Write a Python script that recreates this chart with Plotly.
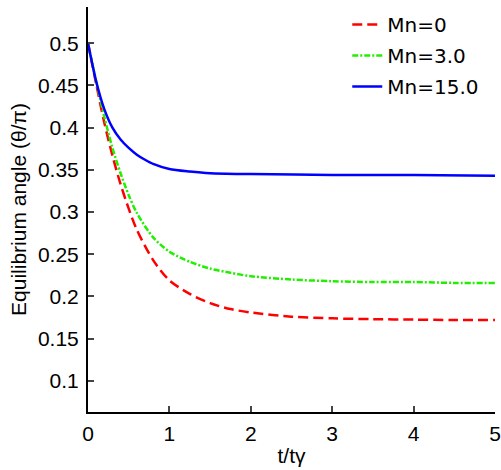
import plotly.graph_objects as go

# Data
t_red = [0, 0.1, 0.2, 0.3, 0.4, 0.5, 0.6, 0.8, 1.0, 1.25, 1.5, 1.75, 2.0, 2.5, 3.0, 3.5, 4.0, 4.5, 5.0]
y_red = [0.5, 0.452, 0.406, 0.367, 0.333, 0.304, 0.279, 0.243, 0.219, 0.203, 0.192, 0.185, 0.181, 0.176, 0.174, 0.173, 0.1725, 0.172, 0.172]

t_green = [0, 0.1, 0.2, 0.3, 0.4, 0.5, 0.6, 0.8, 1.0, 1.25, 1.5, 1.75, 2.0, 2.5, 3.0, 3.5, 4.0, 4.5, 5.0]
y_green = [0.5, 0.455, 0.413, 0.376, 0.346, 0.320, 0.299, 0.270, 0.253, 0.241, 0.233, 0.228, 0.224, 0.220, 0.218, 0.217, 0.217, 0.216, 0.216]

t_blue = [0, 0.1, 0.2, 0.3, 0.4, 0.5, 0.6, 0.7, 0.8, 1.0, 1.25, 1.5, 2.0, 3.0, 4.0, 5.0]
y_blue = [0.5, 0.455, 0.422, 0.400, 0.386, 0.376, 0.368, 0.362, 0.357, 0.351, 0.348, 0.346, 0.345, 0.344, 0.344, 0.343]

names = ["Mn=0", "Mn=3.0", "Mn=15.0"]
x_ticks = [0, 1, 2, 3, 4, 5]
y_ticks = [0.1, 0.15, 0.2, 0.25, 0.3, 0.35, 0.4, 0.45, 0.5]
y_tick_text = ["0.1", "0.15", "0.2", "0.25", "0.3", "0.35", "0.4", "0.45", "0.5"]

fig = go.Figure()
fig.add_trace(go.Scatter(x=t_red, y=y_red, mode="lines", name=names[0], legendgroup="a",
                         line=dict(color="#ff0000", width=2.5, dash="10px,5px", shape="spline", smoothing=0.8)))
fig.add_trace(go.Scatter(x=t_green, y=y_green, mode="lines", name=names[1], legendgroup="b",
                         line=dict(color="#22ee00", width=2.5, dash="6px,2px,2px,2px", shape="spline", smoothing=0.8)))
fig.add_trace(go.Scatter(x=t_blue, y=y_blue, mode="lines", name=names[2], legendgroup="c",
                         line=dict(color="#0000ff", width=2.5, shape="spline", smoothing=0.8)))

font = "Liberation Sans, Arial, sans-serif"
fig.update_layout(
    width=501, height=470,
    margin=dict(l=88, r=6, t=5, b=58),
    plot_bgcolor="white", paper_bgcolor="white",
    font=dict(family=font, color="black", size=21),
    showlegend=True,
    legend=dict(x=0.637, y=1.005, xanchor="left", yanchor="top",
                font=dict(family="DejaVu Sans, sans-serif", size=20),
                bgcolor="rgba(0,0,0,0)", tracegroupgap=2, traceorder="grouped"),
    xaxis=dict(range=[0, 5], tickvals=x_ticks, ticks="inside", ticklen=6, tickwidth=1.5,
               showline=True, linecolor="black", linewidth=2, showgrid=False, zeroline=False,
               tickfont=dict(size=21), ticklabelstandoff=2, automargin=False,
               title=dict(text="t/tγ", font=dict(size=21), standoff=4)),
    yaxis=dict(range=[0.063, 0.543], tickvals=y_ticks, ticktext=y_tick_text, ticks="inside",
               ticklen=6, tickwidth=1.5, automargin=False,
               showline=True, linecolor="black", linewidth=2, showgrid=False, zeroline=False,
               tickfont=dict(size=21), ticklabelstandoff=3,
               title=dict(text="Equilibrium angle (θ/π)", font=dict(size=21), standoff=6)),
)
fig.write_html("out.html")
